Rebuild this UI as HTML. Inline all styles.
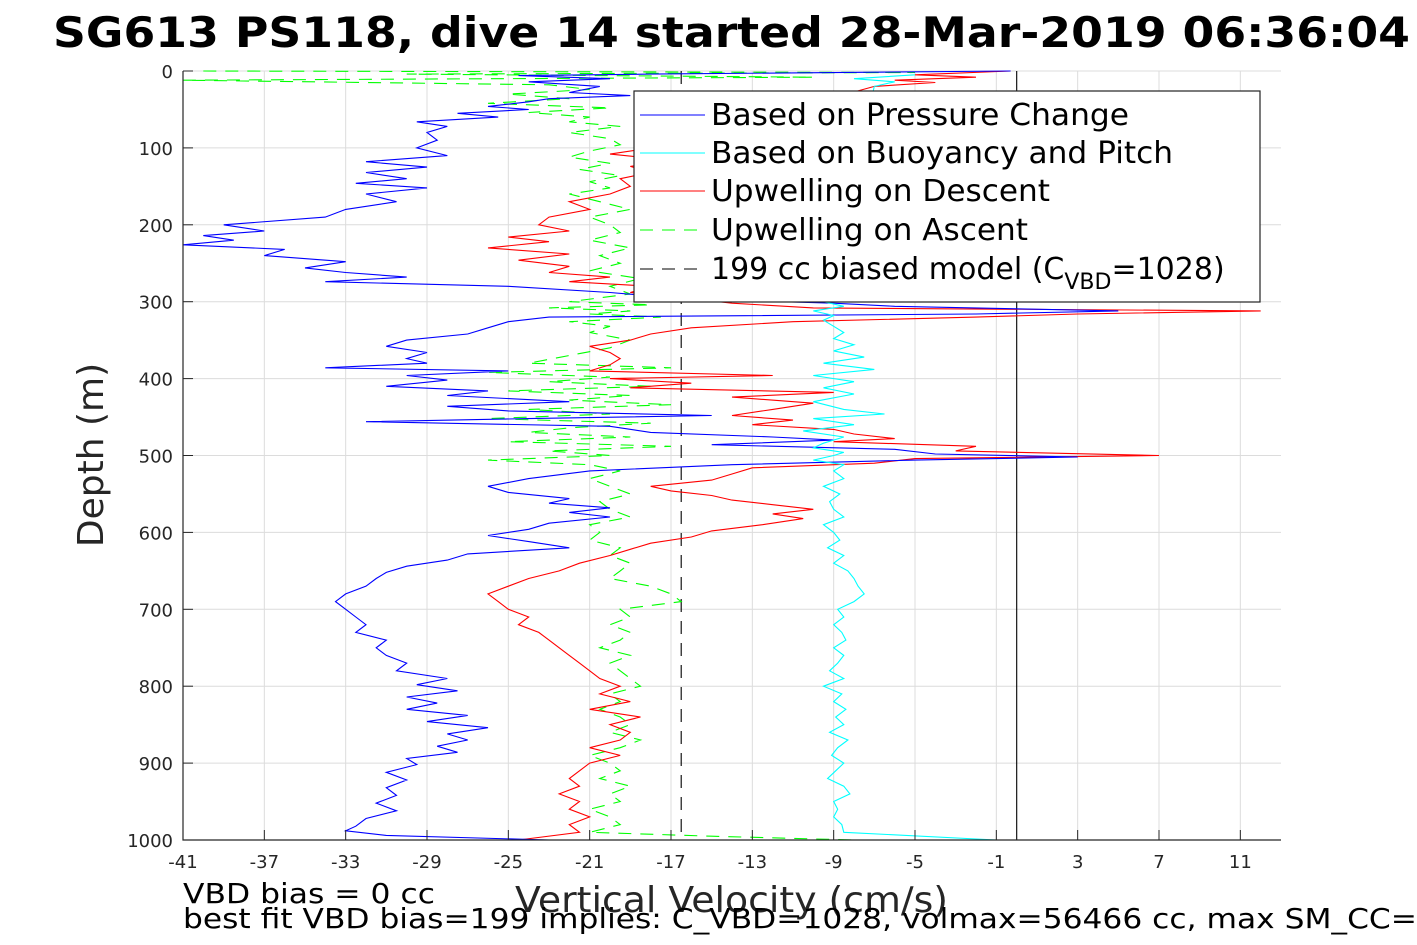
<!DOCTYPE html>
<html><head><meta charset="utf-8"><style>
html,body{margin:0;padding:0;background:#fff}
svg{display:block;font-family:"DejaVu Sans","Liberation Sans",sans-serif}
</style></head><body>
<svg id="chart" width="1417" height="945" viewBox="0 0 1417 945" xmlns="http://www.w3.org/2000/svg">
<rect width="1417" height="945" fill="#fff"/>
<text x="53" y="47" font-size="42" font-weight="bold" textLength="1357" lengthAdjust="spacingAndGlyphs">SG613 PS118, dive 14 started 28-Mar-2019 06:36:04</text>
<g id="grid"></g>
<g id="series"></g>
<g id="axes"></g>
<g>
<rect x="634" y="91" width="626" height="211" fill="#fff" stroke="#222" stroke-width="1.2"/>
<line x1="640" y1="115" x2="705" y2="115" stroke="#00f" stroke-width="1"/>
<text x="711" y="125" font-size="30" textLength="418" lengthAdjust="spacingAndGlyphs">Based on Pressure Change</text>
<line x1="640" y1="153" x2="705" y2="153" stroke="#0ff" stroke-width="1"/>
<text x="711" y="163" font-size="30" textLength="462" lengthAdjust="spacingAndGlyphs">Based on Buoyancy and Pitch</text>
<line x1="640" y1="191" x2="705" y2="191" stroke="#f00" stroke-width="1"/>
<text x="711" y="201" font-size="30" textLength="339" lengthAdjust="spacingAndGlyphs">Upwelling on Descent</text>
<line x1="640" y1="230" x2="705" y2="230" stroke="#0f0" stroke-width="1" stroke-dasharray="13,9"/>
<text x="711" y="240" font-size="30" textLength="317" lengthAdjust="spacingAndGlyphs">Upwelling on Ascent</text>
<line x1="640" y1="269" x2="705" y2="269" stroke="#000" stroke-width="1" stroke-dasharray="13,9"/>
<text x="711" y="279" font-size="30">199 cc biased model (C<tspan font-size="22" dy="10">VBD</tspan><tspan dy="-10">=1028)</tspan></text>
</g>
<text transform="translate(103,455) rotate(-90)" text-anchor="middle" font-size="36" fill="#262626">Depth (m)</text>
<text x="515" y="912" font-size="36" fill="#262626" textLength="433" lengthAdjust="spacingAndGlyphs">Vertical Velocity (cm/s)</text>
<text x="183" y="903" font-size="28" textLength="252" lengthAdjust="spacingAndGlyphs">VBD bias = 0 cc</text>
<text x="183" y="928" font-size="28" textLength="1234" lengthAdjust="spacingAndGlyphs">best fit VBD bias=199 implies: C_VBD=1028, volmax=56466 cc, max SM_CC=</text>
</svg>
<script>
const xTicks=[-41,-37,-33,-29,-25,-21,-17,-13,-9,-5,-1,3,7,11];
const yTicks=[0,100,200,300,400,500,600,700,800,900,1000];
const modelBiased=-16.5;
const modelZero=0.0;
const blueDepth=[0,4,6,10,14,20,28,32,36,40,46,50,55,60,66,72,80,90,100,110,118,125,132,140,146,152,160,170,180,190,200,208,214,220,226,232,240,248,256,262,268,274,280,288,296,302,306,312,316,320,326,334,342,350,358,366,374,380,386,390,396,402,410,416,422,430,436,442,448,452,456,462,470,476,480,486,492,498,502,506,512,520,530,540,548,556,562,568,574,580,588,596,604,612,620,628,636,644,652,660,670,680,690,700,710,720,730,740,750,760,770,780,790,798,806,814,822,830,838,846,854,862,870,878,886,894,902,912,922,932,942,952,962,972,982,988,994,1000];
const blueVel=[-0.3,-18,-24.5,-20,-24,-20.5,-22,-19,-23,-24,-26,-24,-27.5,-25.5,-29.5,-28,-29,-28.5,-29.5,-28,-32,-29,-32,-30,-32.5,-29,-32,-30.5,-33,-34,-39,-37,-40,-38.5,-41,-36,-37,-33,-35,-33,-30,-34,-25,-20,-16.5,-9,-6,5,-2,-23,-25,-26,-27,-30,-31,-29,-30,-29,-34,-25,-30,-28,-31,-26,-28,-22,-28,-25,-15,-24,-32,-20,-18,-12,-9,-15,-6,-4,3,-5,-14,-21,-24,-26,-25,-22,-23,-20,-22,-20,-23,-24,-26,-24,-22,-27,-28,-30,-31,-31.5,-32,-33,-33.5,-33,-32.5,-32,-32.5,-31,-31.5,-31,-30,-30.5,-28,-29.5,-27.5,-30,-28.5,-30,-27,-29,-26,-28,-27,-28.5,-27.5,-30,-29.5,-31,-30,-31,-30.5,-31.5,-30.5,-32,-32.5,-33,-31,-23];
const redDepth=[0,5,8,12,15,20,100,108,116,124,132,140,150,160,170,180,190,200,208,216,222,230,238,246,254,262,268,274,280,288,296,302,308,312,316,320,326,334,342,350,358,366,374,382,390,396,400,406,412,418,424,432,440,448,454,460,466,472,478,482,488,494,500,504,510,516,524,532,540,546,552,558,564,570,576,582,590,598,606,614,622,630,640,650,660,670,680,690,700,710,720,730,740,750,760,770,780,790,800,810,820,830,840,850,860,870,880,890,900,910,920,930,940,950,960,970,980,990,1000];
const redVel=[-0.3,-5,-2,-6,-4,-7,-18,-20,-17,-19,-18,-19.5,-19,-20,-22,-21,-23,-23.5,-22,-25,-23,-26,-22,-24.5,-22,-23,-20,-22,-18,-19,-16,-14,-10,12,3,-2,-11,-16,-18,-19,-21,-20,-19.5,-20,-21,-12,-20,-16,-19,-9,-14,-10,-12,-14,-11,-13,-9,-8,-6,-9,-2,-3,7,-5,-7,-13,-14,-15,-18,-17,-15,-14,-12,-10,-12,-10.5,-12.5,-15,-16,-18,-19,-20,-21.5,-22.5,-24,-25,-26,-25.5,-25,-24,-24.5,-23.5,-23,-22.5,-22,-21.5,-21,-20.5,-19.5,-20.5,-19,-21,-18.5,-20,-19,-19.5,-21,-19.5,-21,-21.5,-22,-21.5,-22.5,-21.5,-22,-21,-22,-21.5,-24.5];
const cyanDepth=[5,10,14,20,300,306,312,318,324,332,340,348,356,364,372,380,388,396,404,412,420,430,440,446,452,460,468,476,484,490,496,500,506,512,520,530,540,550,560,570,580,590,600,610,620,630,640,650,660,670,680,690,700,710,720,730,740,750,760,770,780,790,800,810,820,830,840,850,860,870,880,890,900,910,920,930,940,950,960,970,980,990,1000];
const cyanVel=[-5,-8,-6,-7,-9.5,-8.5,-10,-9,-9.5,-9,-8.5,-9,-8,-9,-7.5,-9.5,-7,-10,-8,-9.5,-8,-10,-8.5,-6.5,-10,-8,-10.5,-8.5,-9.5,-10,-8.5,-9,-10,-8.5,-9,-8.5,-9.5,-8.7,-9.2,-9,-8.5,-9.5,-9,-8.7,-9.3,-8.5,-9,-8.3,-8,-7.8,-7.5,-8,-8.8,-8.5,-9,-8.6,-8.4,-9,-8.5,-8.8,-9.2,-8.5,-9.5,-8.6,-9,-8.4,-8.9,-8.5,-9.2,-8.3,-8.8,-9.1,-8.5,-8.9,-9.3,-8.5,-8.2,-9,-8.8,-9,-8.6,-8.5,-1];
const greenDepth=[0,2,4,8,12,18,24,30,36,42,48,54,60,66,72,80,88,96,104,112,120,128,136,144,152,160,170,180,190,200,210,220,230,240,250,260,270,280,290,300,304,308,312,316,320,326,332,340,350,360,370,380,386,392,398,404,410,416,422,428,434,440,446,452,458,464,470,476,482,488,494,500,506,512,520,530,540,550,560,570,580,590,600,610,620,630,640,650,660,670,680,690,700,710,720,730,740,750,760,770,780,790,800,810,820,830,840,850,860,870,880,890,900,910,920,930,940,950,960,970,980,990,995,1000];
const greenVel=[-40,-5,-30,-10,-41,-23,-21,-25,-22,-26,-20,-24,-21,-22,-19.5,-22,-20,-19.5,-21,-22,-20,-21.5,-19.5,-21,-20,-22,-20.5,-19,-21,-20,-19.5,-21,-19,-20.5,-19.5,-21,-18.5,-20,-19,-22,-18,-23,-19,-21,-17.5,-22,-20,-21,-19,-20,-22,-24,-17,-26,-20,-23,-18,-25,-19,-22,-17,-24,-20,-26,-18,-22,-24,-19,-25,-17,-23,-20,-26,-21,-19.5,-21,-20,-19,-20.5,-20,-19,-21,-20.5,-21,-19.5,-20,-19,-19.5,-20,-18,-17,-16.5,-19.5,-19,-20,-19,-19.5,-20.5,-19,-20,-19.5,-19,-18.5,-20,-19.5,-20.5,-19.5,-19,-20,-18.5,-19.5,-21,-20,-19.5,-20.5,-19,-20,-19.5,-21,-20,-19.5,-21,-15,-8];

const X0=183,X1=1281,Y0=71,Y1=840,XMIN=-41,XMAX=13,DMAX=1000;
const sx=v=>X0+(v-XMIN)/(XMAX-XMIN)*(X1-X0);
const sy=d=>Y0+d/DMAX*(Y1-Y0);
const NS='http://www.w3.org/2000/svg';
function mk(tag,attrs,parent){const e=document.createElementNS(NS,tag);for(const k in attrs)e.setAttribute(k,attrs[k]);parent.appendChild(e);return e;}
const grid=document.getElementById('grid'),axes=document.getElementById('axes'),series=document.getElementById('series');
xTicks.forEach(t=>{const l=mk('line',{x1:sx(t),x2:sx(t),y1:Y0,y2:Y1,stroke:'#dcdcdc','stroke-width':1},grid);


const tk=mk('line',{x1:sx(t),x2:sx(t),y1:Y1,y2:Y1-10,stroke:'#262626','stroke-width':1},axes);


const tx=mk('text',{x:sx(t),y:Y1+28,'text-anchor':'middle','font-size':18,fill:'#262626'},axes);tx.textContent=t;

});
yTicks.forEach(t=>{const l=mk('line',{x1:X0,x2:X1,y1:sy(t),y2:sy(t),stroke:'#dcdcdc','stroke-width':1},grid);


const tk=mk('line',{x1:X0,x2:X0+10,y1:sy(t),y2:sy(t),stroke:'#262626','stroke-width':1},axes);


const tx=mk('text',{x:X0-10,y:sy(t)+7,'text-anchor':'end','font-size':18,fill:'#262626'},axes);tx.textContent=t;

});
const ax=mk('path',{d:`M${X0},${Y0}V${Y1}H${X1}`,fill:'none',stroke:'#262626','stroke-width':1.2},axes);


function line(ds,vs,color,dash,name){const pts=ds.map((d,i)=>sx(vs[i]).toFixed(1)+','+sy(d).toFixed(1)).join(' ');
const p=mk('polyline',{points:pts,fill:'none',stroke:color,'stroke-width':1.1},series);if(dash)p.setAttribute('stroke-dasharray',dash);

}
line([0,DMAX],[modelZero,modelZero],'#000',null,'model-unbiased-line');
line([0,DMAX],[modelBiased,modelBiased],'#000','13,9','model-biased-line');
line(greenDepth,greenVel,'#0f0','13,9','upwelling-ascent-line');
line(redDepth,redVel,'#f00',null,'upwelling-descent-line');
line(blueDepth,blueVel,'#00f',null,'pressure-change-line');
line(cyanDepth,cyanVel,'#0ff',null,'buoyancy-pitch-line');
</script>
</body></html>
